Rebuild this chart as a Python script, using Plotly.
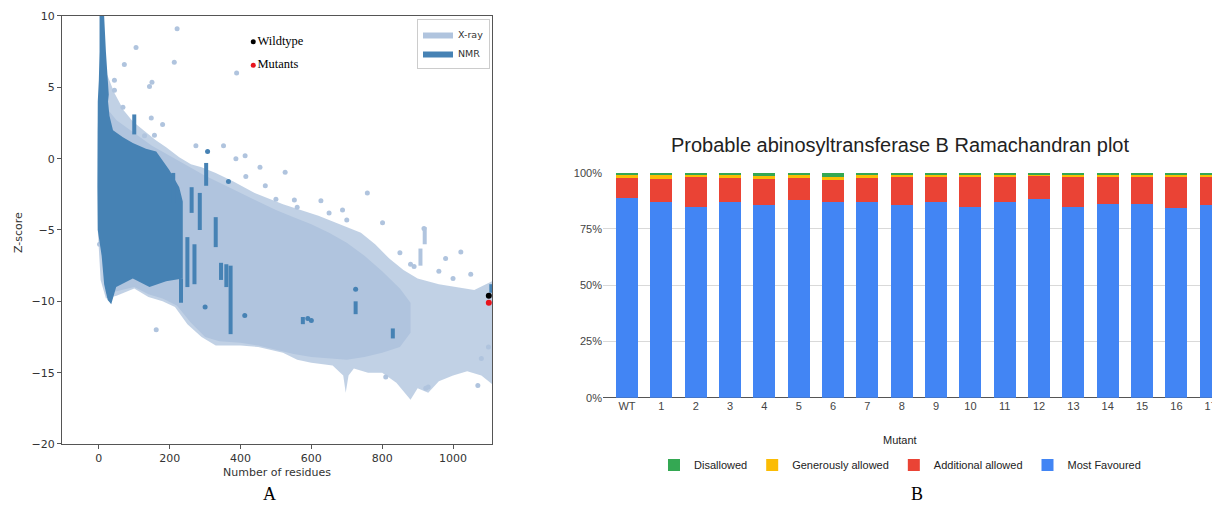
import plotly.graph_objects as go

# ---------------- Panel A data (Z-score vs number of residues) ----------------
# X-ray cloud: outer (speckled) envelope
xray_fringe_top_x = [-3, 2, 10, 25, 44, 70, 96, 130, 160, 190, 227, 260, 290, 330, 380, 440, 520, 570, 620, 680, 740, 780, 820, 860, 900, 960, 1010, 1060, 1110]
xray_fringe_top_y = [2.0, 6.0, 6.5, 5.8, 4.6, 3.4, 2.6, 1.9, 1.3, 0.8, 0.1, -0.4, -0.6, -1.0, -1.6, -2.4, -3.2, -3.6, -4.0, -4.6, -5.2, -6.0, -7.0, -7.8, -8.4, -8.8, -9.0, -9.2, -8.6]
xray_fringe_bot_x = [-3, 5, 20, 50, 100, 140, 180, 215, 250, 290, 330, 400, 450, 520, 560, 600, 660, 690, 697, 705, 720, 760, 800, 840, 860, 880, 900, 930, 960, 1000, 1040, 1080, 1110]
xray_fringe_bot_y = [-5.0, -8.5, -9.8, -9.6, -9.1, -9.7, -10.0, -10.4, -11.6, -12.5, -13.1, -13.1, -13.2, -13.6, -14.1, -14.3, -14.5, -15.2, -16.4, -15.2, -14.7, -15.0, -15.0, -15.7, -16.3, -16.9, -16.1, -16.4, -15.6, -15.2, -14.9, -15.2, -15.8]
# X-ray cloud: dense core
xray_core_top_x = [0, 20, 50, 100, 150, 200, 250, 300, 350, 400, 450, 500, 550, 600, 650, 700, 750, 800, 850, 880]
xray_core_top_y = [4.0, 3.6, 2.7, 1.8, 0.9, 0.2, -0.5, -1.2, -1.8, -2.4, -3.0, -3.6, -4.1, -4.6, -5.2, -5.9, -6.8, -7.9, -9.1, -10.1]
xray_core_bot_x = [0, 20, 50, 100, 140, 180, 220, 260, 300, 340, 400, 450, 500, 550, 600, 650, 700, 750, 800, 850, 880]
xray_core_bot_y = [-5.0, -9.5, -9.3, -9.0, -9.5, -9.8, -10.3, -11.5, -12.5, -12.8, -12.9, -13.1, -13.4, -13.7, -13.9, -14.0, -14.1, -13.9, -13.6, -13.2, -12.2]
# X-ray isolated points
xray_pts_x = [221, 105, 213, 389, 72, 44, 44, 150, 143, 68, 148, 180, 129, 157, 274, 352, 413, 387, 455, 526, 415, 758, 552, 627, 500, 688, 801, 918, 890, 1022, 979, 810, 923, 930, 162, 2, 470, 560, 650, 700, 850, 880, 1000, 1050, 960, 1080, 1100, 1070]
xray_pts_y = [9.1, 7.8, 6.75, 6.0, 6.6, 5.5, 4.8, 5.35, 5.05, 3.6, 2.85, 2.4, 1.6, 1.65, 0.9, 0.9, 0.2, 0.0, -0.6, -0.95, -1.25, -2.4, -2.9, -2.95, -2.85, -3.6, -4.5, -4.9, -7.55, -6.55, -7.0, -15.3, -16.1, -16.0, -12.0, -6.0, -1.9, -3.4, -3.8, -4.3, -6.6, -7.4, -8.4, -8.1, -7.9, -14.0, -13.2, -15.9]
xray_streak_x = [920, 908, 232]
xray_streak_top = [-4.8, -6.3, -1.5]
xray_streak_bot = [-6.0, -7.5, -3.5]

# NMR cloud
nmr_x = [2, 15, 20, 26, 28, 26, 30, 40, 68, 96, 133, 162, 180, 199, 227, 237, 237, 190, 143, 96, 49, 35, 25, 15, 8, -3, -4, -3, -3, 0, 2]
nmr_y = [10.0, 10.0, 7.5, 5.5, 4.5, 4.0, 3.0, 2.0, 1.5, 1.1, 0.7, 0.5, -0.1, -0.8, -2.0, -3.0, -8.4, -8.6, -9.0, -8.4, -9.0, -10.2, -9.9, -8.8, -6.8, -5.0, -2.0, 2.2, 4.0, 5.5, 7.5]
nmr_streak_x = [100, 210, 232, 250, 262, 270, 285, 303, 330, 345, 360, 372, 576, 725, 830, 1108]
nmr_streak_top = [3.1, -1.0, -8.4, -5.5, -2.0, -6.0, -2.4, -0.3, -4.1, -7.3, -7.4, -7.5, -11.1, -10.0, -11.9, -8.8]
nmr_streak_bot = [1.7, -3.1, -10.1, -9.0, -3.8, -8.8, -5.0, -1.9, -6.2, -8.5, -9.0, -12.3, -11.6, -10.9, -12.6, -9.4]
nmr_pts_x = [300, 366, 412, 600, 725, 307, 590]
nmr_pts_y = [-10.4, -1.6, -11.0, -11.35, -9.15, 0.5, -11.2]

wildtype_x, wildtype_y = [1101], [-9.6]
mutant_x, mutant_y = [1101], [-10.1]
key_x = [436, 436]
key_y = [8.2, 6.55]
key_labels = ["Wildtype", "Mutants"]

x_ticks_a = [0, 200, 400, 600, 800, 1000]
y_ticks_a = [-20, -15, -10, -5, 0, 5, 10]

# ---------------- Panel B data (Ramachandran plot) ----------------
mutants = ["WT"] + [str(i) for i in range(1, 18)]
most_favoured = [88.7, 86.8, 84.8, 86.8, 85.5, 87.9, 86.8, 86.8, 85.8, 86.8, 84.8, 86.8, 88.1, 84.8, 86.2, 86.2, 84.5, 85.8]
additional_allowed = [9.5, 10.6, 13.1, 10.7, 11.5, 9.9, 10.3, 10.7, 12.1, 11.3, 13.6, 11.3, 10.4, 13.3, 11.9, 12.4, 13.5, 12.8]
generously_allowed = [0.8, 1.5, 1.0, 1.4, 1.5, 1.6, 0.8, 1.4, 1.0, 0.9, 0.6, 1.2, 0.9, 0.9, 0.9, 0.8, 1.0, 0.8]
disallowed = [1.0, 1.1, 1.1, 1.1, 1.5, 0.6, 2.1, 1.1, 1.1, 1.0, 1.0, 0.7, 0.6, 1.0, 1.0, 0.6, 1.0, 0.6]
y_ticks_b = [0, 25, 50, 75, 100]
y_tick_labels_b = ["0%", "25%", "50%", "75%", "100%"]

LIGHT = "#b0c4de"
DARK = "#4682b4"


def seg(xs, tops, bots):
    sx, sy = [], []
    for x, t, b in zip(xs, tops, bots):
        sx += [x, x, None]
        sy += [t, b, None]
    return sx, sy


fig = go.Figure()

# X-ray fringe
fig.add_trace(go.Scatter(
    x=xray_fringe_top_x + xray_fringe_bot_x[::-1],
    y=xray_fringe_top_y + xray_fringe_bot_y[::-1],
    fill="toself", fillcolor="rgba(176,196,222,0.78)", mode="lines",
    line=dict(width=0), showlegend=False, hoverinfo="skip"))
# X-ray core
fig.add_trace(go.Scatter(
    x=xray_core_top_x + xray_core_bot_x[::-1],
    y=xray_core_top_y + xray_core_bot_y[::-1],
    fill="toself", fillcolor=LIGHT, mode="lines", line=dict(width=0, color=LIGHT),
    name="X-ray", legend="legend"))
fig.add_trace(go.Scatter(x=xray_pts_x, y=xray_pts_y, mode="markers",
                         marker=dict(color=LIGHT, size=5), showlegend=False))
sx, sy = seg(xray_streak_x, xray_streak_top, xray_streak_bot)
fig.add_trace(go.Scatter(x=sx, y=sy, mode="lines", line=dict(color=LIGHT, width=4),
                         showlegend=False))
# NMR
fig.add_trace(go.Scatter(x=nmr_x, y=nmr_y, fill="toself", fillcolor=DARK, mode="lines",
                         line=dict(width=0, color=DARK), name="NMR", legend="legend"))
sx, sy = seg(nmr_streak_x, nmr_streak_top, nmr_streak_bot)
fig.add_trace(go.Scatter(x=sx, y=sy, mode="lines", line=dict(color=DARK, width=4),
                         showlegend=False))
fig.add_trace(go.Scatter(x=nmr_pts_x, y=nmr_pts_y, mode="markers",
                         marker=dict(color=DARK, size=5), showlegend=False))
# Wildtype / mutants
fig.add_trace(go.Scatter(x=wildtype_x, y=wildtype_y, mode="markers",
                         marker=dict(color="black", size=6), showlegend=False, cliponaxis=False))
fig.add_trace(go.Scatter(x=mutant_x, y=mutant_y, mode="markers",
                         marker=dict(color="#e8141c", size=6), showlegend=False, cliponaxis=False))
fig.add_trace(go.Scatter(x=key_x, y=key_y, mode="markers+text", text=key_labels,
                         textposition="middle right",
                         textfont=dict(family="Liberation Serif", size=12.5, color="black"),
                         marker=dict(color=["black", "#e8141c"], size=5), showlegend=False))

# Bars
for name, vals, col in [("Most Favoured", most_favoured, "#4285f4"),
                        ("Additional allowed", additional_allowed, "#ea4335"),
                        ("Generously allowed", generously_allowed, "#fbbc04"),
                        ("Disallowed", disallowed, "#34a853")]:
    fig.add_trace(go.Bar(x=mutants, y=vals, name=name, marker=dict(color=col, line=dict(width=0)),
                         xaxis="x2", yaxis="y2", legend="legend2"))

fs_a = dict(family="DejaVu Sans", size=11, color="#333")
fs_b = dict(family="Liberation Sans", size=11, color="#444")


def note(text, x, y, font, **kw):
    d = dict(text=text, x=x, y=y, xref="paper", yref="paper", showarrow=False,
             xanchor="center", yanchor="middle", font=font)
    d.update(kw)
    return d


fig.update_layout(
    width=1212, height=498, margin=dict(l=0, r=0, t=0, b=0, autoexpand=False),
    paper_bgcolor="white", plot_bgcolor="white",
    barmode="stack", barnorm="percent", bargap=0.36,
    xaxis=dict(domain=[0.04455, 0.39934], range=[-104, 1110], tickvals=x_ticks_a,
               ticks="outside", ticklen=4, tickcolor="#555", showline=True, mirror=True,
               linecolor="#555", linewidth=1, showgrid=False, zeroline=False, tickfont=fs_a),
    yaxis=dict(domain=[0.12450, 0.98394], range=[-20, 10], tickvals=y_ticks_a,
               ticks="outside", ticklen=4, tickcolor="#555", showline=True, mirror=True,
               linecolor="#555", linewidth=1, showgrid=False, zeroline=False, tickfont=fs_a),
    xaxis2=dict(domain=[0.49092, 1.0], anchor="y2", type="category", range=[-0.70, 17.27],
                showline=False, ticks="", tickfont=fs_b, showgrid=False,
                ticklabeloverflow="allow"),
    yaxis2=dict(domain=[0.21747, 0.66928], anchor="x2", range=[0, 100], tickmode="array",
                tickvals=y_ticks_b, ticktext=y_tick_labels_b, gridcolor="#d9d9d9",
                zeroline=True, zerolinecolor="#555", zerolinewidth=1, showline=False,
                tickfont=fs_b),
    legend=dict(x=0.39769, xanchor="right", y=0.97791, yanchor="top", bgcolor="white",
                bordercolor="#cccccc", borderwidth=1,
                font=dict(family="DejaVu Sans", size=9.5, color="#333"), tracegroupgap=0),
    legend2=dict(orientation="h", x=0.73597, xanchor="center", y=0.08233, yanchor="middle",
                 traceorder="reversed", font=dict(family="Liberation Sans", size=11, color="#222")),
    annotations=[
        note("Probable abinosyltransferase B Ramachandran plot", 0.73597, 0.72490,
             dict(family="Liberation Sans", size=20, color="#222")),
        note("Mutant", 0.73597, 0.13253, dict(family="Liberation Sans", size=11, color="#222")),
        note("Z-score", 0.00825, 0.55020, fs_a, textangle=-90),
        note("Number of residues", 0.22195, 0.06627, fs_a),
        note("A", 0.21535, 0.0, dict(family="Liberation Serif", size=18, color="black"),
             yanchor="bottom"),
        note("B", 0.75, 0.0, dict(family="Liberation Serif", size=18, color="black"),
             yanchor="bottom"),
    ],
)

fig.write_html("out.html")
